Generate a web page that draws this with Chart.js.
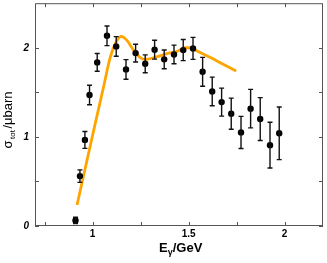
<!DOCTYPE html>
<html>
<head>
<meta charset="utf-8">
<script src="https://cdn.jsdelivr.net/npm/chart.js@4/dist/chart.umd.min.js"></script>
<style>
  html, body { margin: 0; padding: 0; background: #fff; }
</style>
</head>
<body>
<canvas id="chart" width="327" height="263"></canvas>
<script>
// measured cross section points (E in GeV, sigma in microbarn, error)
const energies = [0.911, 0.934, 0.96, 0.984, 1.024, 1.075, 1.123, 1.174, 1.224, 1.274, 1.323, 1.373,
                  1.424, 1.472, 1.523, 1.573, 1.623, 1.672, 1.722, 1.773, 1.823, 1.873, 1.924, 1.972];
const sigma = [0.063, 0.56, 0.966, 1.47, 1.836, 2.134, 2.015, 1.757, 1.94, 1.82, 1.978, 1.87,
               1.925, 1.974, 1.993, 1.73, 1.51, 1.39, 1.26, 1.05, 1.317, 1.2, 0.907, 1.04];
const errors = [0.035, 0.07, 0.095, 0.11, 0.1, 0.11, 0.11, 0.11, 0.1, 0.1, 0.106, 0.105,
                0.105, 0.118, 0.123, 0.162, 0.16, 0.157, 0.175, 0.18, 0.216, 0.24, 0.257, 0.295];

// model curve
const curveE = [0.919, 1.005, 1.057, 1.092, 1.118, 1.148, 1.179, 1.214, 1.248, 1.274, 1.33,
                1.387, 1.44, 1.483, 1.51, 1.544, 1.65, 1.748];
const curveSigma = [0.235, 1.067, 1.56, 1.896, 2.045, 2.128, 2.083, 1.97, 1.89, 1.87, 1.895,
                    1.934, 1.96, 2.0, 2.0, 1.963, 1.85, 1.74];

const xMajor = [1, 1.5, 2];
const xMinor = [0.75, 1.25, 1.75];
const yMajor = [0, 1, 2];
const yMinor = [0.5, 1.5];

const FONT = '"Liberation Sans", Arial, sans-serif';

const frameAndBars = {
  id: 'frameAndBars',
  afterDatasetsDraw(chart) {
    const ctx = chart.ctx;
    const a = chart.chartArea;
    const xs = chart.scales.x, ys = chart.scales.y;
    ctx.save();
    // error bars
    ctx.strokeStyle = '#111';
    ctx.lineWidth = 1.4;
    energies.forEach((e, i) => {
      const px = xs.getPixelForValue(e);
      const top = ys.getPixelForValue(sigma[i] + errors[i]);
      const bot = ys.getPixelForValue(sigma[i] - errors[i]);
      ctx.beginPath();
      ctx.moveTo(px, top); ctx.lineTo(px, bot);
      ctx.moveTo(px - 2.5, top); ctx.lineTo(px + 2.5, top);
      ctx.moveTo(px - 2.5, bot); ctx.lineTo(px + 2.5, bot);
      ctx.stroke();
    });
    // frame with inward ticks
    ctx.strokeStyle = '#555';
    ctx.lineWidth = 1;
    ctx.strokeRect(a.left + 0.5, a.top + 0.5, a.right - a.left - 1, a.bottom - a.top - 1);
    ctx.beginPath();
    xMajor.concat(xMinor).forEach(v => {
      const px = Math.round(xs.getPixelForValue(v)) + 0.5;
      ctx.moveTo(px, a.bottom); ctx.lineTo(px, a.bottom - 4);
      ctx.moveTo(px, a.top); ctx.lineTo(px, a.top + 4);
    });
    yMajor.concat(yMinor).forEach(v => {
      const py = Math.round(ys.getPixelForValue(v)) + 0.5;
      ctx.moveTo(a.left, py); ctx.lineTo(a.left + 4, py);
      ctx.moveTo(a.right, py); ctx.lineTo(a.right - 4, py);
    });
    ctx.stroke();

    // x title: E_gamma/GeV
    ctx.fillStyle = '#000';
    ctx.textBaseline = 'alphabetic';
    const big = 'bold 13px ' + FONT, small = 'bold 9px ' + FONT;
    ctx.font = big;
    const wE = ctx.measureText('E').width;
    const wRest = ctx.measureText('/GeV').width;
    ctx.font = small;
    const wG = ctx.measureText('γ').width;
    const x0 = 159;
    const by = 252;
    ctx.font = big;
    ctx.fillText('E', x0, by);
    ctx.font = small;
    ctx.fillText('γ', x0 + wE, by + 3);
    ctx.font = big;
    ctx.fillText('/GeV', x0 + wE + wG, by);

    // y title: sigma_tot/mubarn
    ctx.translate(12, 120);
    ctx.rotate(-Math.PI / 2);
    const yb = '13px ' + FONT, ys2 = '8px ' + FONT;
    ctx.font = yb;
    const ws = ctx.measureText('σ').width;
    const wb = ctx.measureText('/μbarn').width;
    ctx.font = ys2;
    const wt = ctx.measureText('tot').width;
    const sx = -(ws + wt + wb + 3) / 2;
    ctx.font = yb;
    ctx.fillText('σ', sx, 0);
    ctx.font = ys2;
    ctx.fillText('tot', sx + ws + 1.5, 3);
    ctx.font = yb;
    ctx.fillText('/μbarn', sx + ws + wt + 3, 0);
    ctx.restore();
  }
};

new Chart(document.getElementById('chart'), {
  type: 'scatter',
  data: {
    datasets: [
      {
        label: 'data',
        data: energies.map((e, i) => ({ x: e, y: sigma[i] })),
        backgroundColor: '#000',
        borderWidth: 0,
        pointRadius: 3.2,
        pointHoverRadius: 3.2,
        order: 0
      },
      {
        label: 'model',
        type: 'line',
        data: curveE.map((e, i) => ({ x: e, y: curveSigma[i] })),
        borderColor: '#FFA500',
        borderWidth: 2.8,
        pointRadius: 0,
        cubicInterpolationMode: 'monotone',
        fill: false,
        order: 1
      }
    ]
  },
  options: {
    responsive: false,
    animation: false,
    devicePixelRatio: 1,
    layout: { padding: { top: 3, right: 4, left: 0, bottom: 0 } },
    plugins: { legend: { display: false }, tooltip: { enabled: false } },
    scales: {
      x: {
        type: 'linear',
        min: 0.7, max: 2.2,
        afterBuildTicks: s => { s.ticks = xMajor.map(v => ({ value: v })); },
        afterFit: s => { s.height = 37; s.paddingLeft = 0; s.paddingRight = 0; },
        grid: { display: false, drawTicks: false, tickLength: 0 },
        border: { display: false },
        ticks: {
          color: '#000',
          padding: 2,
          maxRotation: 0,
          font: { family: FONT, size: 10, weight: 'bold' },
          callback: v => String(v)
        }
      },
      y: {
        type: 'linear',
        min: 0, max: 2.5,
        afterBuildTicks: s => { s.ticks = yMajor.map(v => ({ value: v })); },
        afterFit: s => { s.width = 35; s.paddingTop = 0; s.paddingBottom = 0; },
        grid: { display: false, drawTicks: false, tickLength: 0 },
        border: { display: false },
        ticks: {
          color: '#000',
          padding: 6,
          font: { family: FONT, size: 10, weight: 'bold', style: 'italic' },
          callback: v => String(v)
        }
      }
    }
  },
  plugins: [frameAndBars]
});
</script>
</body>
</html>
